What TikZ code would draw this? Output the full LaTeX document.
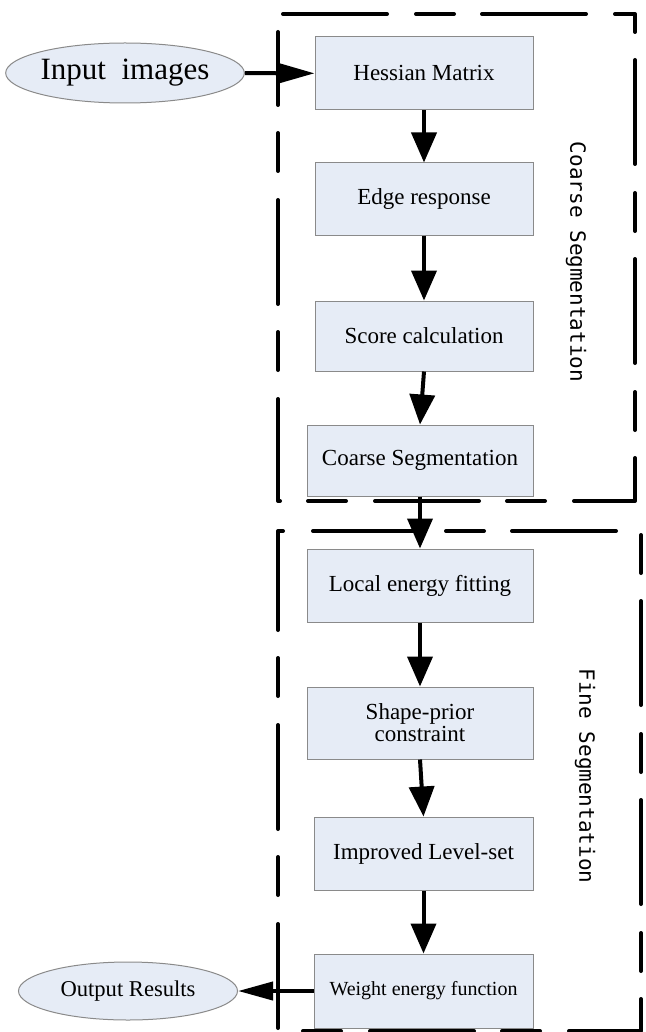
\documentclass[tikz,border=0pt]{standalone}
\usepackage{fontspec}
\setmainfont{Liberation Serif}
\setmonofont{DejaVu Sans Mono}
\usepackage{tikz}
\usetikzlibrary{arrows.meta,positioning,shapes.geometric}
\definecolor{BoxFill}{HTML}{E6ECF6}
\definecolor{BoxLine}{HTML}{8A8A8A}

\begin{document}
\begin{tikzpicture}[x=0.5pt,y=-0.5pt,
    stepbox/.style={draw=BoxLine,line width=0.5pt,fill=BoxFill,inner sep=0pt,
      minimum height=36.5pt,align=center,font=\fontsize{11.5}{11}\selectfont},
    io/.style={ellipse,draw=BoxLine,line width=0.5pt,fill=BoxFill,inner sep=0pt},
    flow/.style={line width=2pt,-{Triangle[length=15pt,width=12.5pt]}},
    stageframe/.style={line width=2pt,line cap=round,line join=round,
      dash pattern=on 52pt off 14.5pt on 19pt off 14pt},
    stagelabel/.style={font=\ttfamily\fontsize{10.5}{12}\selectfont,rotate=-90}]
  \useasboundingbox (0,0) rectangle (646,1032);
  % coarse stage
  \node[stepbox,minimum width=109pt] (hess) at (424,73.5) {Hessian Matrix};
  \node[stepbox,minimum width=109pt,minimum height=36pt] (edge) at (424,199) {Edge response};
  \node[stepbox,minimum width=109pt,minimum height=35pt] (score) at (424,336) {Score calculation};
  \node[stepbox,minimum width=113pt,minimum height=35.5pt] (coarse) at (420,460.5) {Coarse Segmentation};
  % fine stage
  \node[stepbox,minimum width=113pt] (local) at (420,585.5) {Local energy fitting};
  \node[stepbox,minimum width=113pt,minimum height=36pt] (shape) at (420,723) {Shape-prior\\constraint};
  \node[stepbox,minimum width=109.5pt] (level) at (423.5,853.5) {Improved Level-set};
  \node[stepbox,minimum width=109.5pt,minimum height=37pt,font=\fontsize{10}{12}\selectfont]
    (weight) at (423.5,991) {Weight energy function};
  % input / output
  \node[io,minimum width=110pt,minimum height=30pt,font=\fontsize{15.5}{18}\selectfont]
    (input) at (125,73) {Input~~images};
  \node[io,minimum width=109.5pt,minimum height=29pt,font=\fontsize{11.3}{13}\selectfont]
    (output) at (128,991) {Output Results};
  \draw[flow,-{Triangle[length=18.5pt,width=10pt]}] (input) -- (hess);
  \draw[flow,-{Triangle[length=17.5pt,width=9pt]}] (weight) -- (output);
  \foreach \a/\b in {hess/edge,edge/score,score/coarse,coarse/local,
                     local/shape,shape/level,level/weight}
    \draw[flow] (\a.south) -- (\b.north);
  % dashed stage frames
  \draw[stageframe] (283,14) -- (635,14) -- (635,501) -- (278,501) -- (278,32);
  \draw[stageframe] (313,531) -- (641,531) -- (641,1031) -- (278,1031) -- (278,531) -- (288,531);
  \node[stagelabel] (coarselbl) at (576,262) {Coarse Segmentation};
  \node[stagelabel] (finelbl) at (585,776) {Fine Segmentation};
\end{tikzpicture}
\end{document}
